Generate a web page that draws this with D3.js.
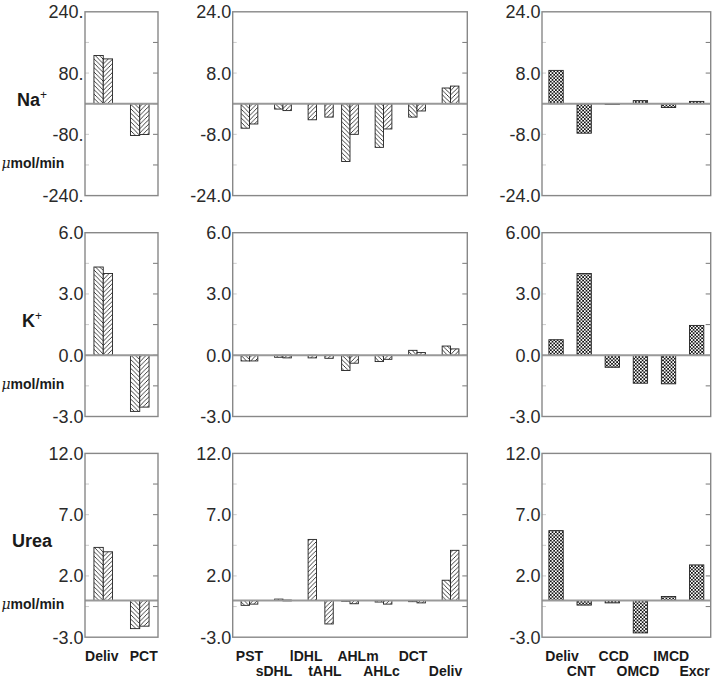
<!DOCTYPE html>
<html><head><meta charset="utf-8">
<script src="https://cdn.jsdelivr.net/npm/d3@7"></script>
<style>body{margin:0;background:#fff}svg{display:block}</style>
</head><body><svg id="c" width="712" height="681"></svg>
<script>
// ---------------- DATA ----------------
const leftCats  = ["Deliv", "PCT"];
const midCats   = ["PST", "sDHL", "lDHL", "tAHL", "AHLm", "AHLc", "DCT", "Deliv"];
const rightCats = ["Deliv", "CNT", "CCD", "OMCD", "IMCD", "Excr"];

// Na+
const naLeftA  = [126, -83];
const naLeftB  = [117, -80.5];
const naMidA   = [-6.4, -1.4, null, null, -15.1, -11.4, -3.5, 4.1];
const naMidB   = [-5.3, -1.8, -4.2, -3.5, -8.0, -6.6, -1.9, 4.6];
const naRight  = [8.7, -7.7, -0.2, 0.8, -1.0, 0.6];
// K+
const kLeftA   = [4.32, -2.75];
const kLeftB   = [4.0, -2.54];
const kMidA    = [-0.28, -0.1, null, null, -0.75, -0.31, 0.24, 0.45];
const kMidB    = [-0.28, -0.13, -0.13, -0.15, -0.39, -0.2, 0.13, 0.31];
const kRight   = [0.76, 4.0, -0.59, -1.37, -1.4, 1.46];
// Urea
const ureaLeftA = [4.33, -2.3];
const ureaLeftB = [3.97, -2.1];
const ureaMidA  = [-0.4, 0.11, null, null, -0.05, -0.13, -0.1, 1.65];
const ureaMidB  = [-0.3, 0.03, 4.98, -1.92, -0.27, -0.3, -0.2, 4.09];
const ureaRight = [5.7, -0.38, -0.2, -2.65, 0.32, 2.9];

// axis ticks / labels
const naLeftDomain = [-240, 240], naLeftStep = 80;
const naLeftTickVals = [240, 80, -80, -240];
const naLeftTickLabels = ["240.", "80.", "-80.", "-240."];
const naDomain = [-24, 24], naStep = 8;
const naTickVals = [24, 8, -8, -24];
const naTickLabels = ["24.0", "8.0", "-8.0", "-24.0"];
const kDomain = [-3, 6], kStep = 1.5;
const kTickVals = [6, 3, 0, -3];
const kTickLabels = ["6.0", "3.0", "0.0", "-3.0"];
const kRightTickLabels = ["6.00", "3.0", "0.0", "-3.0"];
const ureaDomain = [-3, 12], ureaStep = 2.5;
const ureaTickVals = [12, 7, 2, -3];
const ureaTickLabels = ["12.0", "7.0", "2.0", "-3.0"];

const rowNames = ["Na", "K", "Urea"];
const rowSups  = ["+", "+", ""];
const unitText = "mol/min";

// ---------------- LAYOUT ----------------
const svg = d3.select("#c");
const cols = [{x0: 85, x1: 158}, {x0: 232.7, x1: 467.3}, {x0: 542, x1: 710.7}];
const rowTops = [11.8, 232.7, 453.4];
const rowH = 183.8;
const FONT = "'Liberation Sans', Arial, Helvetica, sans-serif";
const leftLabelNudge  = [-1.5, 4];
const midLabelNudge   = [0, -9, -2, 0, 8, -2, -4, -5];
const rightLabelNudge = [6, -3, 1.5, -2.5, 2.7, -2];

// patterns
const defs = svg.append("defs");
function hatch(id, dirs, s, sw) {
  const p = defs.append("pattern").attr("id", id).attr("patternUnits", "userSpaceOnUse")
    .attr("width", s).attr("height", s);
  p.append("rect").attr("width", s).attr("height", s).attr("fill", "#fff");
  let d = "";
  if (dirs.includes("b")) d += `M${-s/4},${3*s/4}l${s/2},${s/2}M0,0l${s},${s}M${3*s/4},${-s/4}l${s/2},${s/2}`;
  if (dirs.includes("f")) d += `M${-s/4},${s/4}l${s/2},${-s/2}M0,${s}l${s},${-s}M${3*s/4},${5*s/4}l${s/2},${-s/2}`;
  p.append("path").attr("d", d).attr("stroke", "#111").attr("stroke-width", sw).attr("fill", "none");
}
hatch("hA", "b", 4.4, 0.8);
hatch("hB", "f", 4.4, 0.8);
hatch("hX", "bf", 3.4, 0.85);

function drawFrame(col, top, domain, step, tickVals, tickLabels) {
  const y = d3.scaleLinear().domain(domain).range([top + rowH, top]);
  const g = svg.append("g");
  const all = d3.range(domain[0] + step, domain[1] - step / 2, step);
  // inner ticks
  g.selectAll("line.tr").data(all).join("line")
    .attr("x1", col.x1).attr("x2", col.x1 - 5)
    .attr("y1", d => y(d)).attr("y2", d => y(d))
    .attr("stroke", "#777").attr("stroke-width", 1);
  g.selectAll("line.tl").data(all).join("line")
    .attr("x1", col.x0).attr("x2", col.x0 + 4)
    .attr("y1", d => y(d)).attr("y2", d => y(d))
    .attr("stroke", "#ccc").attr("stroke-width", 1);
  g.selectAll("text").data(tickVals).join("text")
    .attr("x", col.x0 - 1.5).attr("y", d => y(d)).attr("dy", "0.36em")
    .attr("text-anchor", "end").attr("font-family", FONT).attr("font-size", 18)
    .attr("fill", "#2a2a2a").text((d, i) => tickLabels[i]);
  return y;
}
function drawBox(col, top, y) {
  svg.append("line").attr("x1", col.x0).attr("x2", col.x1).attr("y1", y(0)).attr("y2", y(0))
    .attr("stroke", "#999").attr("stroke-width", 2);
  svg.append("rect").attr("x", col.x0).attr("y", top).attr("width", col.x1 - col.x0).attr("height", rowH)
    .attr("fill", "none").attr("stroke", "#888").attr("stroke-width", 1.4);
}
function barRect(sel, y) {
  sel.attr("y", d => Math.min(y(d.v), y(0)))
     .attr("height", d => Math.max(0.8, Math.abs(y(d.v) - y(0))))
     .attr("stroke", "#222").attr("stroke-width", 0.9);
}

// ---- left column ----
function leftPanel(top, domain, step, tv, tl, A, B) {
  const col = cols[0];
  const y = drawFrame(col, top, domain, step, tv, tl);
  const x = d3.scaleBand().domain(leftCats).range([col.x0, col.x1]).paddingInner(0.49).paddingOuter(0.245);
  const xs = d3.scaleBand().domain(["A", "B"]).range([0, x.bandwidth()]);
  const data = leftCats.flatMap((c, i) => [{c, s: "A", v: A[i]}, {c, s: "B", v: B[i]}]);
  svg.append("g").selectAll("rect").data(data).join("rect")
    .attr("x", d => x(d.c) + xs(d.s)).attr("width", xs.bandwidth())
    .attr("fill", d => d.s === "A" ? "url(#hA)" : "url(#hB)").call(barRect, y);
  drawBox(col, top, y);
  return x;
}
// ---- middle column ----
const midN = midCats.map((c, i) => (naMidA[i] != null ? 1 : 0) + (naMidB[i] != null ? 1 : 0));
const midStart = midN.map((n, i) => d3.sum(midN.slice(0, i), m => 2 * m));
const midTotal = d3.sum(midN, m => 2 * m);
function midPanel(top, domain, step, tv, tl, A, B) {
  const col = cols[1];
  const y = drawFrame(col, top, domain, step, tv, tl);
  const x = d3.scaleLinear().domain([0, midTotal]).range([col.x0, col.x1]);
  const data = [];
  midCats.forEach((c, i) => {
    let k = 0;
    if (A[i] != null) { data.push({i, s: "A", k, v: A[i]}); k++; }
    if (B[i] != null) { data.push({i, s: "B", k, v: B[i]}); k++; }
  });
  svg.append("g").selectAll("rect").data(data).join("rect")
    .attr("x", d => x(midStart[d.i] + 1 + d.k)).attr("width", x(1) - x(0))
    .attr("fill", d => d.s === "A" ? "url(#hA)" : "url(#hB)").call(barRect, y);
  drawBox(col, top, y);
  return x;
}
// ---- right column ----
function rightPanel(top, domain, step, tv, tl, V) {
  const col = cols[2];
  const y = drawFrame(col, top, domain, step, tv, tl);
  const x = d3.scaleBand().domain(rightCats).range([col.x0, col.x1]).paddingInner(0.49).paddingOuter(0.245);
  svg.append("g").selectAll("rect").data(rightCats.map((c, i) => ({c, v: V[i]}))).join("rect")
    .attr("x", d => x(d.c)).attr("width", x.bandwidth())
    .attr("fill", "url(#hX)").call(barRect, y);
  drawBox(col, top, y);
  return x;
}

const xl = leftPanel(rowTops[0], naLeftDomain, naLeftStep, naLeftTickVals, naLeftTickLabels, naLeftA, naLeftB);
const xm = midPanel(rowTops[0], naDomain, naStep, naTickVals, naTickLabels, naMidA, naMidB);
const xr = rightPanel(rowTops[0], naDomain, naStep, naTickVals, naTickLabels, naRight);
leftPanel(rowTops[1], kDomain, kStep, kTickVals, kTickLabels, kLeftA, kLeftB);
midPanel(rowTops[1], kDomain, kStep, kTickVals, kTickLabels, kMidA, kMidB);
rightPanel(rowTops[1], kDomain, kStep, kTickVals, kRightTickLabels, kRight);
leftPanel(rowTops[2], ureaDomain, ureaStep, ureaTickVals, ureaTickLabels, ureaLeftA, ureaLeftB);
midPanel(rowTops[2], ureaDomain, ureaStep, ureaTickVals, ureaTickLabels, ureaMidA, ureaMidB);
rightPanel(rowTops[2], ureaDomain, ureaStep, ureaTickVals, ureaTickLabels, ureaRight);

// row labels & units
rowNames.forEach((n, i) => {
  const t = svg.append("text").attr("x", 32).attr("y", rowTops[i] + 87.5).attr("dy", "0.36em")
    .attr("text-anchor", "middle").attr("font-family", FONT).attr("font-size", 18)
    .attr("font-weight", "bold").attr("fill", "#1a1a1a");
  t.append("tspan").text(n);
  if (rowSups[i]) t.append("tspan").attr("font-size", 12).attr("font-weight", "normal")
    .attr("dy", "-0.55em").text(rowSups[i]);
  const u = svg.append("text").attr("x", 1.5).attr("y", rowTops[i] + 151).attr("dy", "0.36em")
    .attr("font-family", FONT).attr("font-size", 14).attr("fill", "#1a1a1a");
  u.append("tspan").attr("font-style", "italic").attr("font-family", "'DejaVu Serif', serif").attr("font-size", 14).text("\u03bc");
  u.append("tspan").attr("font-weight", "bold").text(unitText);
});

// x labels (bottom)
const yb = rowTops[2] + rowH;
function xLabel(x, yy, s) {
  svg.append("text").attr("x", x).attr("y", yy).attr("dy", "0.36em").attr("text-anchor", "middle")
    .attr("font-family", FONT).attr("font-size", 14).attr("font-weight", "bold").attr("fill", "#1a1a1a").text(s);
}
leftCats.forEach((c, i) => xLabel(xl(c) + xl.bandwidth() / 2 + leftLabelNudge[i], yb + 19, c));
midCats.forEach((c, i) => xLabel(xm(midStart[i] + midN[i]) + midLabelNudge[i], yb + (i % 2 ? 33.5 : 18.5), c));
rightCats.forEach((c, i) => xLabel(xr(c) + xr.bandwidth() / 2 + rightLabelNudge[i], yb + (i % 2 ? 33.5 : 18.5), c));
</script></body></html>
